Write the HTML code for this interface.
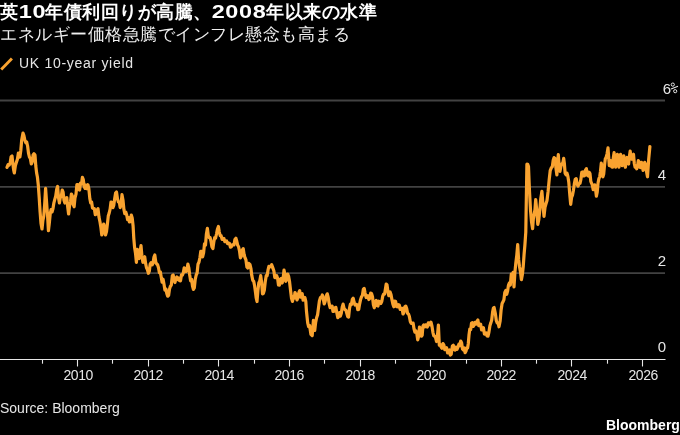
<!DOCTYPE html>
<html><head><meta charset="utf-8"><style>
html,body{margin:0;padding:0;background:#000;width:680px;height:435px;overflow:hidden;position:relative;font-family:"Liberation Sans",sans-serif;color:#fff}
.t{position:absolute;white-space:nowrap;will-change:transform}
.ti{top:1px;font-size:18px;letter-spacing:0.5px;font-weight:bold;color:#fff;line-height:22px}
.dg{text-align:center} .dg span{display:inline-block;transform:scaleX(1.3);letter-spacing:0.5px}
#sub{left:0;top:25px;font-size:17px;letter-spacing:0.5px;line-height:20px;color:#f0f0f0}
#leg{left:19px;top:55px;font-size:14px;letter-spacing:0.7px;line-height:16px;color:#e6e6e6}
.yl{position:absolute;will-change:transform;font-size:15px;color:#e6e6e6;text-align:right;width:40px;line-height:17px}
.xl{position:absolute;will-change:transform;top:366.5px;letter-spacing:-0.4px;text-indent:0.4px;width:60px;text-align:center;font-size:14px;line-height:16px;color:#e6e6e6}
#src{left:0;top:400px;font-size:14px;line-height:16px;color:#e6e6e6}
#logo{right:0;top:417px;font-size:14px;line-height:16px;font-weight:bold;color:#fff}
svg{position:absolute;left:0;top:0}
</style></head><body>
<svg width="680" height="435" viewBox="0 0 680 435">
<line x1="0" y1="100.5" x2="665" y2="100.5" stroke="#424242" stroke-width="1.8"/>
<line x1="0" y1="186.8" x2="665" y2="186.8" stroke="#424242" stroke-width="1.8"/>
<line x1="0" y1="273.1" x2="665" y2="273.1" stroke="#424242" stroke-width="1.8"/>
<line x1="0" y1="359.5" x2="665.5" y2="359.5" stroke="#e6e6e6" stroke-width="1.1"/>
<line x1="42.5" y1="359" x2="42.5" y2="363.7" stroke="#e6e6e6" stroke-width="1.1"/><line x1="77.5" y1="359" x2="77.5" y2="366.5" stroke="#e6e6e6" stroke-width="1.1"/><line x1="112.5" y1="359" x2="112.5" y2="363.7" stroke="#e6e6e6" stroke-width="1.1"/><line x1="148.5" y1="359" x2="148.5" y2="366.5" stroke="#e6e6e6" stroke-width="1.1"/><line x1="183.5" y1="359" x2="183.5" y2="363.7" stroke="#e6e6e6" stroke-width="1.1"/><line x1="218.5" y1="359" x2="218.5" y2="366.5" stroke="#e6e6e6" stroke-width="1.1"/><line x1="254.5" y1="359" x2="254.5" y2="363.7" stroke="#e6e6e6" stroke-width="1.1"/><line x1="289.5" y1="359" x2="289.5" y2="366.5" stroke="#e6e6e6" stroke-width="1.1"/><line x1="324.5" y1="359" x2="324.5" y2="363.7" stroke="#e6e6e6" stroke-width="1.1"/><line x1="360.5" y1="359" x2="360.5" y2="366.5" stroke="#e6e6e6" stroke-width="1.1"/><line x1="395.5" y1="359" x2="395.5" y2="363.7" stroke="#e6e6e6" stroke-width="1.1"/><line x1="430.5" y1="359" x2="430.5" y2="366.5" stroke="#e6e6e6" stroke-width="1.1"/><line x1="466.5" y1="359" x2="466.5" y2="363.7" stroke="#e6e6e6" stroke-width="1.1"/><line x1="501.5" y1="359" x2="501.5" y2="366.5" stroke="#e6e6e6" stroke-width="1.1"/><line x1="536.5" y1="359" x2="536.5" y2="363.7" stroke="#e6e6e6" stroke-width="1.1"/><line x1="571.5" y1="359" x2="571.5" y2="366.5" stroke="#e6e6e6" stroke-width="1.1"/><line x1="607.5" y1="359" x2="607.5" y2="363.7" stroke="#e6e6e6" stroke-width="1.1"/><line x1="642.5" y1="359" x2="642.5" y2="366.5" stroke="#e6e6e6" stroke-width="1.1"/>
<path d="M7.0,167.4 L8.1,164.6 L9.2,165.0 L10.1,163.2 L11.1,156.7 L12.0,156.0 L12.9,164.0 L13.6,169.6 L14.3,173.0 L15.4,165.5 L16.5,162.0 L17.4,159.2 L18.4,153.0 L19.1,154.0 L19.9,157.0 L20.8,150.5 L21.7,140.0 L23.0,133.0 L23.9,135.5 L24.8,140.0 L25.8,142.8 L26.7,142.0 L27.6,146.0 L28.5,153.1 L29.4,157.0 L30.4,158.7 L31.3,164.0 L32.2,162.1 L33.1,155.0 L34.0,153.8 L35.0,155.0 L35.8,166.0 L36.6,172.9 L37.4,177.0 L38.3,185.1 L39.2,197.6 L40.1,212.0 L41.0,223.4 L42.0,229.0 L42.9,220.4 L43.8,216.0 L44.7,203.9 L45.6,188.4 L46.9,206.8 L47.6,215.8 L48.4,230.7 L49.3,223.3 L50.2,214.0 L51.1,209.5 L52.1,211.9 L53.0,208.6 L53.9,202.8 L54.8,199.4 L55.7,196.2 L56.7,189.3 L57.6,186.5 L58.5,197.4 L59.4,203.0 L60.3,197.4 L61.3,196.5 L62.2,190.0 L63.1,192.1 L64.0,200.3 L64.9,203.0 L65.8,198.2 L66.8,197.6 L67.7,206.8 L68.6,214.0 L69.5,206.3 L70.5,202.0 L71.4,194.0 L72.3,195.9 L73.2,204.3 L74.1,206.8 L75.0,197.9 L76.0,194.2 L76.9,184.7 L77.8,184.6 L78.7,189.8 L79.6,190.0 L80.5,183.2 L81.5,184.0 L82.4,177.4 L83.3,179.7 L84.2,186.8 L85.1,188.4 L86.0,185.2 L87.0,188.7 L87.9,184.7 L88.8,188.4 L89.8,198.4 L90.7,203.0 L91.6,201.9 L92.5,207.9 L93.4,208.6 L94.3,208.6 L95.3,214.7 L96.2,214.0 L97.1,210.1 L98.0,208.6 L99.0,217.2 L100.0,222.0 L100.9,227.5 L101.8,235.0 L102.8,231.8 L103.7,224.0 L104.6,227.0 L105.5,235.0 L106.5,231.6 L107.4,224.0 L108.3,215.8 L109.2,213.0 L110.1,209.1 L111.0,202.0 L112.0,202.4 L112.9,207.6 L113.8,205.1 L114.7,198.4 L115.6,193.1 L116.5,192.0 L117.5,198.9 L118.4,202.0 L119.3,202.1 L120.2,207.6 L121.1,204.0 L122.0,194.7 L123.0,200.2 L123.9,209.4 L124.8,213.6 L125.8,212.1 L126.7,215.0 L127.6,219.7 L128.5,217.4 L129.4,222.0 L130.4,221.5 L131.3,215.0 L132.2,217.9 L133.1,226.0 L133.8,238.3 L134.6,247.6 L135.5,253.2 L136.4,262.3 L137.4,249.4 L138.3,256.3 L139.2,258.6 L140.1,251.2 L141.0,245.7 L141.9,255.9 L142.9,262.3 L143.8,258.3 L144.7,256.8 L145.6,263.4 L146.5,267.8 L147.4,269.5 L148.4,273.3 L149.3,271.2 L150.2,264.0 L151.1,262.6 L152.1,264.9 L153.0,263.2 L153.9,257.4 L154.8,255.0 L155.8,262.2 L156.7,264.0 L157.6,264.8 L158.5,267.8 L159.4,272.7 L160.3,271.9 L161.2,277.0 L162.1,282.2 L163.1,279.2 L164.0,284.3 L164.9,290.1 L165.9,288.9 L166.8,293.5 L167.7,296.2 L168.6,295.4 L169.5,289.1 L170.4,286.2 L171.3,285.2 L172.3,275.8 L173.2,275.0 L174.1,280.0 L175.0,282.5 L175.9,278.5 L176.9,277.0 L177.8,279.6 L178.7,278.1 L179.6,280.7 L180.5,280.8 L181.5,274.8 L182.4,275.1 L183.3,272.9 L184.2,267.8 L185.1,268.7 L186.0,271.5 L186.9,269.5 L187.9,264.0 L188.8,267.8 L189.7,275.0 L190.6,280.8 L191.6,279.4 L192.5,286.0 L193.4,289.4 L194.3,288.0 L195.2,279.5 L196.2,275.0 L197.1,273.0 L198.0,264.2 L198.9,262.3 L199.9,257.8 L200.8,251.3 L201.7,251.3 L202.6,256.8 L203.6,252.9 L204.5,243.9 L205.5,245.0 L206.4,234.0 L207.4,228.4 L208.3,235.6 L209.2,237.6 L210.1,237.7 L211.0,241.3 L211.9,246.7 L212.9,248.6 L213.8,242.0 L214.7,237.6 L215.6,238.0 L216.5,234.0 L217.4,229.2 L218.4,226.5 L219.3,232.1 L220.2,235.7 L221.1,235.6 L222.1,239.4 L223.0,239.4 L223.9,238.4 L224.8,241.7 L225.7,241.3 L226.6,241.0 L227.6,243.7 L228.5,243.0 L229.4,243.2 L230.4,247.2 L231.3,246.8 L232.2,244.9 L233.1,245.0 L234.0,244.9 L234.9,239.4 L235.9,238.2 L236.8,241.3 L237.7,245.3 L238.6,246.8 L239.5,250.9 L240.4,257.8 L241.3,256.4 L242.3,250.0 L243.2,248.6 L244.1,254.4 L245.0,257.8 L245.9,259.7 L246.9,267.0 L247.8,268.1 L248.7,263.3 L250.0,264.7 L250.9,268.3 L251.8,275.7 L252.8,280.4 L253.7,281.3 L254.6,285.7 L255.5,292.3 L256.2,298.0 L257.0,301.5 L257.9,290.6 L258.8,283.0 L259.8,280.8 L260.7,275.7 L261.6,282.2 L262.5,294.0 L263.4,293.4 L264.3,290.4 L265.2,282.1 L266.2,275.7 L267.1,275.8 L268.0,270.2 L268.9,266.3 L269.9,266.5 L270.8,266.8 L271.7,264.7 L273.0,268.4 L273.9,271.0 L274.8,277.6 L275.8,277.6 L276.7,275.7 L277.6,278.3 L278.5,285.0 L279.4,285.2 L280.3,279.4 L281.2,278.5 L282.2,283.0 L283.1,279.0 L284.0,270.2 L284.9,274.3 L285.8,281.3 L286.8,279.3 L287.7,274.0 L288.6,276.4 L289.5,281.3 L290.5,290.0 L291.5,298.2 L292.5,301.4 L293.3,296.4 L294.2,298.0 L295.0,292.5 L296.0,294.7 L297.0,300.0 L297.9,297.6 L298.9,292.5 L299.7,290.7 L300.6,297.1 L301.4,295.0 L302.2,293.6 L303.1,300.2 L303.9,298.9 L304.9,297.5 L305.8,301.4 L306.5,311.5 L307.7,322.9 L308.6,326.6 L309.6,325.4 L310.9,334.3 L312.2,335.6 L313.4,320.4 L314.7,330.5 L315.6,322.8 L316.6,317.8 L317.6,314.7 L318.5,307.7 L319.4,301.0 L320.4,297.6 L321.4,297.3 L322.3,295.0 L323.2,298.5 L324.2,303.9 L325.1,301.6 L326.1,296.3 L327.3,293.8 L328.2,297.4 L329.2,303.9 L330.1,307.6 L331.1,306.5 L332.1,306.1 L333.0,311.5 L333.9,311.4 L334.9,307.7 L335.9,307.4 L336.8,312.8 L337.8,317.7 L338.7,316.6 L339.6,312.6 L340.4,316.1 L341.3,313.3 L342.2,307.3 L343.1,304.1 L344.0,308.2 L344.9,309.6 L345.9,310.1 L346.8,313.3 L347.7,316.5 L348.6,317.0 L349.5,308.3 L350.4,304.1 L351.4,304.6 L352.3,299.5 L353.2,298.2 L354.1,302.3 L355.0,305.1 L355.9,304.1 L356.9,304.6 L357.8,309.6 L358.7,309.4 L359.6,304.1 L360.6,299.4 L361.5,296.8 L362.4,295.4 L363.3,289.4 L364.2,288.4 L365.1,293.1 L366.1,297.5 L367.0,296.8 L367.9,295.7 L368.8,299.5 L369.8,298.2 L370.7,293.1 L371.6,293.7 L372.5,296.8 L373.4,304.9 L374.3,307.8 L375.2,302.5 L376.2,300.4 L377.1,305.8 L378.0,306.0 L378.9,301.2 L379.9,302.3 L380.9,303.5 L381.8,301.3 L382.8,295.9 L383.7,294.0 L384.6,294.1 L385.5,288.4 L386.2,284.1 L387.0,284.7 L387.9,291.5 L388.8,295.7 L390.1,292.0 L391.0,294.5 L391.9,299.4 L392.9,304.3 L393.8,306.8 L394.7,301.2 L395.6,301.3 L396.6,306.6 L397.5,306.8 L398.4,304.7 L399.3,305.0 L400.2,309.4 L401.1,308.6 L402.1,308.3 L403.0,314.0 L403.9,312.7 L404.8,306.8 L405.8,306.1 L406.7,308.6 L407.6,313.4 L408.5,314.0 L409.4,316.6 L410.3,321.5 L411.2,323.3 L412.2,323.3 L413.1,323.1 L414.0,328.8 L414.9,332.0 L415.8,330.7 L416.8,333.3 L417.7,339.9 L418.6,336.3 L419.5,327.0 L420.4,329.8 L421.4,336.2 L422.2,335.2 L422.9,326.1 L423.7,325.0 L424.6,326.9 L425.5,324.8 L426.4,326.8 L427.3,327.1 L428.3,322.9 L429.2,323.1 L430.1,324.8 L431.0,322.2 L431.9,325.8 L432.9,332.3 L433.8,335.9 L434.7,336.0 L435.6,337.6 L436.5,341.5 L437.4,336.1 L438.4,325.0 L439.3,345.1 L440.2,344.4 L441.1,347.0 L442.0,348.2 L443.0,343.6 L443.9,345.1 L444.8,349.7 L445.7,348.8 L446.6,347.7 L447.6,352.9 L448.5,350.7 L449.4,349.9 L450.3,355.1 L451.2,354.3 L452.4,346.0 L453.3,345.3 L454.1,349.6 L455.0,350.0 L456.0,347.2 L457.0,349.3 L458.0,347.0 L458.9,344.1 L459.8,345.6 L460.7,341.0 L461.6,342.7 L462.5,348.9 L463.4,350.0 L464.3,347.9 L465.1,352.7 L466.0,351.0 L466.8,347.9 L467.6,348.0 L468.3,343.5 L469.0,335.0 L469.8,329.0 L470.7,329.6 L471.5,323.1 L472.4,322.6 L473.3,326.4 L474.2,325.0 L475.1,322.3 L476.1,324.0 L477.0,321.3 L477.9,320.0 L478.8,325.7 L479.7,325.0 L480.6,324.1 L481.6,329.9 L482.5,328.6 L483.4,327.6 L484.4,334.1 L485.3,334.1 L486.2,332.9 L487.1,336.0 L488.0,336.1 L488.9,332.3 L489.9,325.7 L490.8,323.1 L491.7,320.0 L492.6,312.1 L493.4,308.0 L494.1,307.5 L495.4,313.9 L496.3,320.5 L497.2,323.1 L498.1,323.0 L499.0,326.8 L500.1,321.3 L501.1,310.0 L502.1,303.5 L503.0,301.7 L503.9,299.8 L504.8,292.5 L505.8,290.5 L506.7,294.3 L507.6,291.1 L508.5,285.1 L509.4,283.0 L510.3,285.1 L511.3,274.1 L512.2,276.1 L513.1,272.3 L514.0,287.0 L514.9,272.4 L515.8,263.1 L516.8,255.1 L517.7,244.7 L518.6,259.4 L519.5,266.8 L520.5,272.0 L521.4,279.6 L522.3,275.0 L523.2,266.8 L524.1,254.1 L524.9,245.0 L525.8,232.0 L526.9,164.2 L527.7,164.3 L528.5,166.6 L529.5,191.4 L530.5,210.0 L531.5,221.7 L532.6,228.7 L533.3,219.3 L534.0,215.0 L534.9,210.1 L535.7,199.7 L536.8,210.9 L537.8,224.5 L538.8,219.7 L539.8,210.0 L540.8,198.4 L541.9,191.4 L543.0,205.1 L544.0,216.3 L545.0,207.3 L546.0,203.8 L547.0,200.5 L548.1,191.4 L549.2,179.7 L550.2,170.7 L551.4,167.6 L552.3,166.8 L553.2,160.2 L554.1,157.6 L555.0,158.4 L556.0,168.6 L556.9,174.9 L557.6,161.8 L558.3,154.7 L559.1,165.6 L560.0,171.3 L560.9,166.4 L561.8,163.9 L562.8,163.0 L563.7,158.4 L564.4,163.8 L565.1,173.1 L566.0,174.7 L567.0,173.1 L567.9,176.4 L568.8,182.3 L569.8,194.9 L570.7,204.3 L571.6,197.3 L572.5,195.1 L573.4,190.5 L574.3,184.1 L575.2,179.3 L576.2,178.6 L577.1,184.1 L578.0,186.0 L579.0,183.7 L580.0,183.3 L580.9,179.4 L581.8,172.3 L582.8,171.9 L583.7,176.0 L584.6,175.5 L585.5,170.0 L586.4,168.6 L587.3,175.3 L588.3,176.0 L589.1,172.2 L590.0,173.6 L590.8,181.4 L591.6,183.3 L592.4,185.4 L593.2,189.7 L594.0,188.8 L594.8,184.9 L595.6,189.6 L596.4,196.2 L597.2,192.3 L598.0,183.3 L598.9,178.6 L599.7,176.8 L600.5,171.2 L601.3,163.2 L602.1,168.2 L602.9,176.8 L603.7,174.0 L604.5,165.6 L605.3,158.9 L606.1,157.5 L607.0,154.1 L608.0,147.9 L609.3,165.6 L610.1,161.9 L610.9,160.7 L611.7,166.8 L612.5,167.2 L613.3,157.9 L614.1,152.7 L614.9,162.3 L615.7,167.2 L616.5,159.7 L617.4,154.3 L618.2,161.8 L619.0,167.2 L619.8,158.4 L620.6,154.3 L621.4,161.7 L622.2,165.6 L623.0,159.7 L623.8,155.9 L624.6,164.4 L625.4,167.2 L626.2,160.1 L627.0,157.5 L627.8,163.3 L628.6,164.0 L629.4,156.5 L630.2,151.1 L631.0,157.8 L631.8,159.1 L632.6,155.7 L633.5,154.3 L634.3,163.5 L635.1,167.2 L635.9,166.1 L636.7,168.8 L637.5,166.4 L638.3,160.7 L639.1,161.9 L639.9,167.2 L640.7,167.6 L641.5,162.4 L642.3,164.9 L643.1,170.4 L643.9,167.6 L644.7,162.4 L645.5,164.4 L646.3,170.4 L647.5,176.8 L648.7,159.1 L649.9,146.5" fill="none" stroke="#f9a330" stroke-width="3.2" stroke-linejoin="round" stroke-linecap="round"/>
<line x1="2.2" y1="68.4" x2="10.9" y2="59.6" stroke="#f9a330" stroke-width="2.9" stroke-linecap="square"/>
<g fill="none" stroke="#e6e6e6" stroke-width="1">
<circle cx="672.8" cy="84.6" r="1.6"/><circle cx="675.2" cy="91.2" r="1.6"/>
</g>
<line x1="671" y1="89" x2="678" y2="86.2" stroke="#e6e6e6" stroke-width="1.1"/>
</svg>
<div class="t ti" style="left:0">英</div><div class="t ti dg" style="left:18.5px;width:26.5px"><span>10</span></div><div class="t ti" style="left:45px">年債利回りが高騰、</div><div class="t ti dg" style="left:211.5px;width:54.5px"><span>2008</span></div><div class="t ti" style="left:266px">年以来の水準</div>
<div class="t" id="sub">エネルギー価格急騰でインフレ懸念も高まる</div>
<div class="t" id="leg">UK 10-year yield</div>
<div class="yl" style="left:631.2px;top:79.5px">6</div>
<div class="yl" style="left:626.3px;top:166px">4</div>
<div class="yl" style="left:626.3px;top:252px">2</div>
<div class="yl" style="left:626.3px;top:338px">0</div>
<div class="xl" style="left:47.5px">2010</div><div class="xl" style="left:118.1px">2012</div><div class="xl" style="left:188.8px">2014</div><div class="xl" style="left:259.4px">2016</div><div class="xl" style="left:330.1px">2018</div><div class="xl" style="left:400.7px">2020</div><div class="xl" style="left:471.3px">2022</div><div class="xl" style="left:542.0px">2024</div><div class="xl" style="left:612.6px">2026</div>
<div class="t" id="src">Source: Bloomberg</div>
<div class="t" id="logo">Bloomberg</div>
</body></html>
